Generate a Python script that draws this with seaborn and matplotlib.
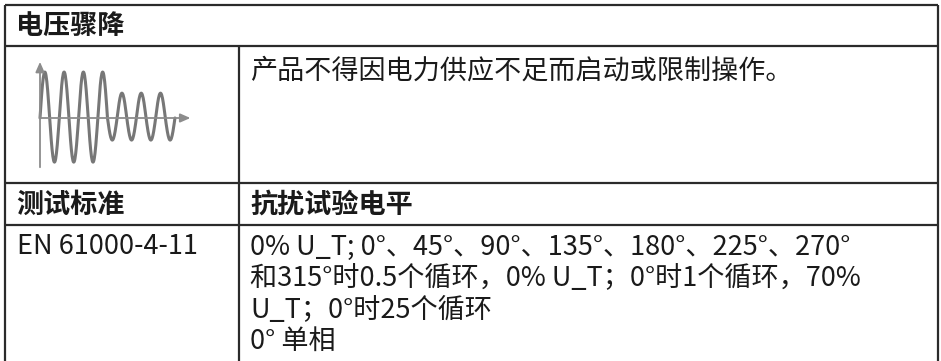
import numpy as np
import pandas as pd
import seaborn as sns
import matplotlib.pyplot as plt

# table content
title = "电压骤降"
description = "产品不得因电力供应不足而启动或限制操作。"
col_headers = ["测试标准", "抗扰试验电平"]
standard = "EN 61000-4-11"
level_lines = [
    "0% U_T; 0°、45°、90°、135°、180°、225°、270°",
    "和315°时0.5个循环，0% U_T；0°时1个循环，70%",
    "U_T；0°时25个循环",
    "0° 单相",
]

# waveform sketch: signed amplitude of each half cycle
half_cycle_amps = [1.0, -0.96, 1.0, -0.96, 1.0, -0.96, 1.0,
                   -0.48, 0.54, -0.48, 0.54, -0.48, 0.54, -0.48]

sns.set_theme(style="white")
plt.rcParams['font.family'] = ['Noto Sans CJK SC', 'DejaVu Sans']

W, H = 941, 361
fig = plt.figure(figsize=(W / 100, H / 100), dpi=100)
ax = fig.add_axes([0, 0, 1, 1])
ax.set_xlim(0, W)
ax.set_ylim(H, 0)
ax.axis('off')

#### table grid (pixel layout)
line_c = '#2b2b2b'
lw = 1.6
x_left, x_mid, x_right = 5, 239, 938
y_top, y_r1, y_r2, y_r3 = 5, 46, 183, 225
ax.hlines([y_top, y_r1, y_r2, y_r3], x_left, x_right, color=line_c, lw=lw)
ax.vlines([x_left, x_right], y_top, H, color=line_c, lw=lw)
ax.vlines(x_mid, y_r1, H, color=line_c, lw=lw)

txt_c = '#1a1a1a'
fs = 19.5
ax.text(16, (y_top + y_r1) / 2 + 1, title, fontsize=fs, fontweight='bold',
        color=txt_c, va='center', ha='left')
ax.text(250, 71, description, fontsize=fs, color=txt_c, va='center', ha='left')
ax.text(16, (y_r2 + y_r3) / 2 + 1, col_headers[0], fontsize=fs, fontweight='bold',
        color=txt_c, va='center', ha='left')
ax.text(250, (y_r2 + y_r3) / 2 + 1, col_headers[1], fontsize=fs, fontweight='bold',
        color=txt_c, va='center', ha='left')
ax.text(17, 247, standard, fontsize=fs, color=txt_c, va='center', ha='left')
for i, line in enumerate(level_lines):
    ax.text(250, 247 + i * 31.5, line, fontsize=fs, color=txt_c, va='center', ha='left')

#### waveform image in the left cell
t_parts, y_parts = [], []
s = np.linspace(0, 1, 25)
for i, amp in enumerate(half_cycle_amps):
    t_parts.append(i + s)
    y_parts.append(amp * np.sin(np.pi * s))
wave = pd.DataFrame({'t': np.concatenate(t_parts), 'v': np.concatenate(y_parts)})

# inset placed over pixels x 38..195, y 58..170
px_l, px_r, py_t, py_b = 38, 195, 58, 170
axw = fig.add_axes([px_l / W, (H - py_b) / H, (px_r - px_l) / W, (py_b - py_t) / H])
half = 9.64   # px per half cycle
unit = 46.0   # px per amplitude unit
axw.set_xlim((px_l - 40) / half, (px_r - 40) / half)
axw.set_ylim((118 - py_b) / unit, (118 - py_t) / unit)
axw.axis('off')

ax_c = '#8c8c8c'
axw.annotate('', xy=(15.6, 0), xytext=(0, 0),
             arrowprops=dict(arrowstyle='-|>,head_length=0.5,head_width=0.22',
                             color=ax_c, lw=1.3, shrinkA=0, shrinkB=0))
axw.annotate('', xy=(0, 1.22), xytext=(0, -1.07),
             arrowprops=dict(arrowstyle='-|>,head_length=0.5,head_width=0.22',
                             color=ax_c, lw=1.3, shrinkA=0, shrinkB=0))
sns.lineplot(data=wave, x='t', y='v', sort=False, estimator=None,
             color='#777777', linewidth=2.2, ax=axw)

fig.savefig('out.png', dpi=100)
